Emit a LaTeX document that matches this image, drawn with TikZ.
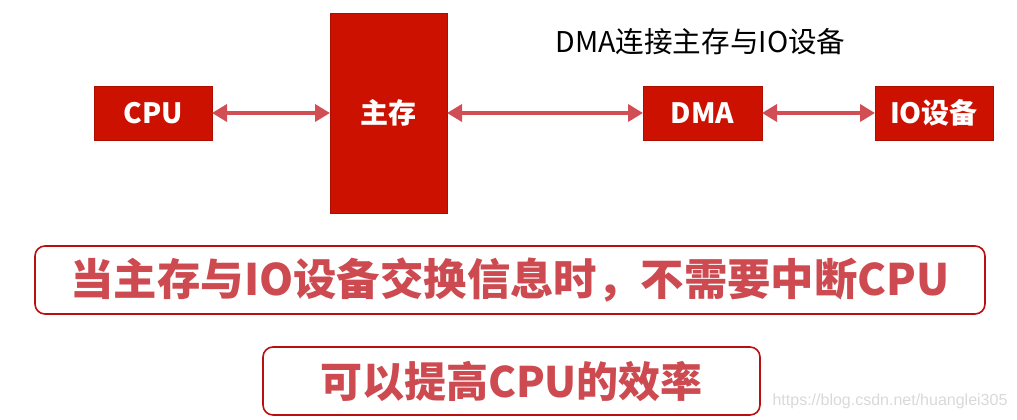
\documentclass[tikz,border=0pt]{standalone}
\usepackage{fontspec}
\setmainfont{Noto Sans CJK SC}
\newfontfamily\markfont{Liberation Sans}
\usetikzlibrary{arrows.meta,positioning}

\definecolor{boxred}{HTML}{CC1100}
\definecolor{linkred}{HTML}{D24E55}
\definecolor{rimred}{HTML}{B81010}
\definecolor{notered}{HTML}{CC4A50}

\begin{document}
\begin{tikzpicture}[x=1pt, y=-1pt, <->, >={Triangle[length=15pt,width=17pt]},
                    node distance=118pt]
    \tikzstyle{unit}=[fill=boxred, draw=boxred!85!black, line width=0.6pt,
                      text=white, font=\fontsize{28}{30}\selectfont\bfseries,
                      minimum width=118pt, minimum height=54pt,
                      inner sep=0pt, outer sep=0pt]
    \tikzstyle{note}=[draw=rimred, line width=1.6pt, rounded corners=10pt,
                      fill=white, text=notered,
                      font=\fontsize{43.4}{45}\selectfont\bfseries,
                      minimum height=68pt, inner sep=0pt]
    \tikzstyle{link}=[draw=linkred, line width=3.6pt]

    \useasboundingbox (0,0) rectangle (1017,420);

    \node[unit]                     (cpu)                        at (153,113) {CPU};
    \node[unit, minimum width=117pt,
          minimum height=200pt]     (mem)  [right=118pt of cpu]              {主存};
    \node[unit, minimum width=119pt] (dma) [right=196pt of mem]              {DMA};
    \node[unit]                     (io)   [right=113pt of dma]              {IO设备};

    \node[font=\fontsize{28.6}{30}\selectfont] (title) at (700.5,42) {DMA连接主存与IO设备};

    \path (cpu) edge[link] (mem);
    \path (mem) edge[link] (dma);
    \path (dma) edge[link] (io);

    \node[note, minimum width=950pt] (swap)  at (510,280)   {当主存与IO设备交换信息时，不需要中断CPU};
    \node[note, minimum width=497pt,
          font=\fontsize{42}{44}\selectfont\bfseries]
                                     (speed) at (511.5,381) {可以提高CPU的效率};

    \node[text=gray!30, font=\markfont\fontsize{16}{18}\selectfont]
                                     (mark)  at (890,401)   {https://blog.csdn.net/huanglei305};
\end{tikzpicture}
\end{document}
